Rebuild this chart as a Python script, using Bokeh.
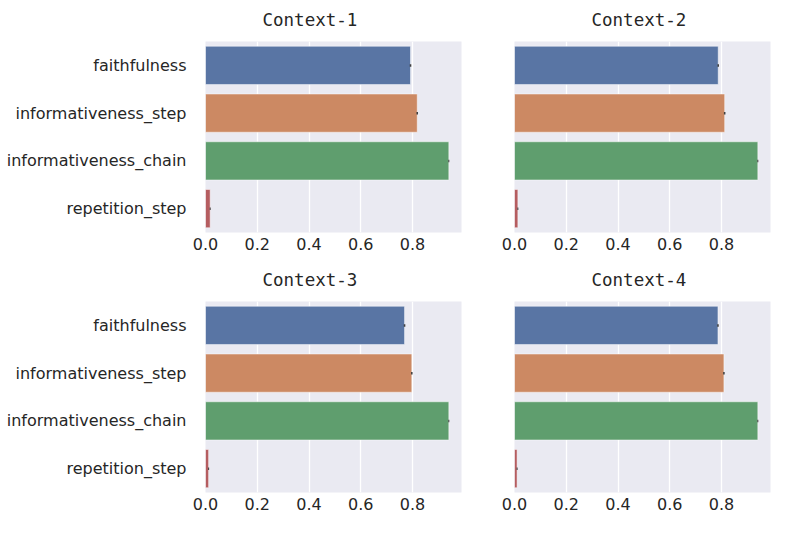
from bokeh.plotting import figure
from bokeh.models import FactorRange, Range1d, FixedTicker, ColumnDataSource
from bokeh.layouts import column, row
from bokeh.embed import file_html
from bokeh.resources import INLINE

categories = ["faithfulness", "informativeness_step", "informativeness_chain", "repetition_step"]
titles = ["Context-1", "Context-2", "Context-3", "Context-4"]
ctx1 = [0.792, 0.818, 0.940, 0.018]
ctx2 = [0.787, 0.812, 0.940, 0.013]
ctx3 = [0.769, 0.797, 0.940, 0.012]
ctx4 = [0.786, 0.809, 0.940, 0.010]
err1 = [0.003, 0.003, 0.002, 0.002]
err2 = [0.003, 0.003, 0.002, 0.002]
err3 = [0.003, 0.003, 0.002, 0.002]
err4 = [0.003, 0.003, 0.002, 0.002]
colors = ["#5975A4", "#CC8963", "#5F9E6E", "#B55D60"]
x_ticks = [0.0, 0.2, 0.4, 0.6, 0.8]

TEXT = "#262626"


def make_panel(title, vals, errs, left, top):
    p = figure(
        y_range=FactorRange(factors=list(reversed(categories)), range_padding=0),
        x_range=Range1d(0, 0.989),
        frame_width=256, frame_height=191,
        min_border_left=205 if left else 33,
        min_border_right=20 if left else 10,
        min_border_top=47 if top else 0,
        min_border_bottom=24 if top else 35,
        output_backend="svg", toolbar_location=None,
        background_fill_color="#EAEAF2", border_fill_color="white",
        outline_line_color=None,
    )
    src = ColumnDataSource(dict(
        cat=categories, val=vals, col=colors,
        lo=[v - e for v, e in zip(vals, errs)],
        hi=[v + e for v, e in zip(vals, errs)],
    ))
    p.hbar(y="cat", left=0, right="val", height=0.8, fill_color="col",
           line_color="white", line_width=0.8, line_alpha=0.6, source=src)
    p.segment(x0="lo", x1="hi", y0="cat", y1="cat", line_color="#3f3f3f",
              line_width=2.5, source=src)

    p.title.text = title
    p.title.text_font = "DejaVu Sans Mono"
    p.title.text_font_size = "17.5px"
    p.title.text_font_style = "normal"
    p.title.text_color = TEXT
    p.title.align = "left"
    p.title.offset = 57 if left else 77
    p.title.standoff = 23

    p.xaxis.ticker = FixedTicker(ticks=x_ticks)
    p.xaxis.major_label_overrides = {tk: f"{tk:.1f}" for tk in x_ticks}
    p.xaxis.major_label_text_font = "DejaVu Sans"
    p.xaxis.major_label_text_font_size = "16px"
    p.xaxis.major_label_text_color = TEXT
    p.xaxis.major_label_standoff = 5
    p.xaxis.major_tick_out = 0
    p.xaxis.major_tick_in = 0
    p.xaxis.axis_line_color = None
    p.xaxis.major_tick_line_color = None
    p.xaxis.minor_tick_line_color = None

    p.yaxis.major_label_text_font = "DejaVu Sans"
    p.yaxis.major_label_text_font_size = "16px"
    p.yaxis.major_label_text_color = TEXT
    p.yaxis.major_label_standoff = 19
    p.yaxis.major_tick_out = 0
    p.yaxis.major_tick_in = 0
    p.yaxis.axis_line_color = None
    p.yaxis.major_tick_line_color = None
    p.yaxis.minor_tick_line_color = None
    if not left:
        p.yaxis.visible = False

    p.xgrid.grid_line_color = "white"
    p.xgrid.grid_line_width = 1.3
    p.ygrid.grid_line_color = None
    return p


p1 = make_panel(titles[0], ctx1, err1, True, True)
p2 = make_panel(titles[1], ctx2, err2, False, True)
p3 = make_panel(titles[2], ctx3, err3, True, False)
p4 = make_panel(titles[3], ctx4, err4, False, False)

layout = column(row(p1, p2), row(p3, p4), styles={"margin-top": "-6px"})
open("out.html", "w").write(file_html(layout, INLINE))
